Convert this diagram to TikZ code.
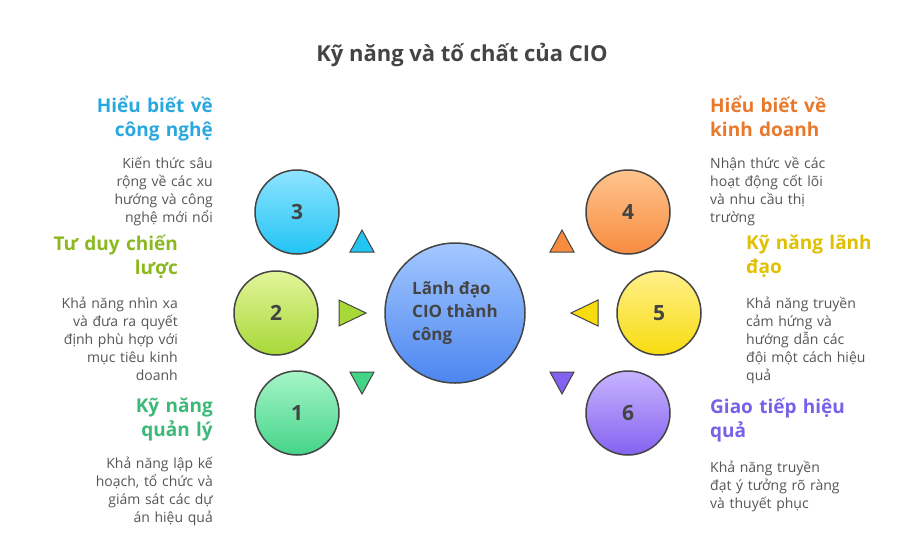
\documentclass[tikz,border=0pt]{standalone}
\usepackage{fontspec}
\setmainfont{Open Sans}
\usepackage{xcolor}
\usetikzlibrary{positioning}
\definecolor{edge}{HTML}{444444}
\definecolor{cyanA}{HTML}{8EE4FF}\definecolor{cyanB}{HTML}{22C4F4}\definecolor{cyanT}{HTML}{29A8E0}
\definecolor{limeA}{HTML}{E2F59A}\definecolor{limeB}{HTML}{A8D838}\definecolor{limeT}{HTML}{8CB820}
\definecolor{grnA}{HTML}{A6F5C8}\definecolor{grnB}{HTML}{44D488}\definecolor{grnT}{HTML}{3CB878}
\definecolor{orA}{HTML}{FFC48E}\definecolor{orB}{HTML}{F78C40}\definecolor{orT}{HTML}{E8782A}
\definecolor{yelA}{HTML}{FFF08A}\definecolor{yelB}{HTML}{F8DC10}\definecolor{yelT}{HTML}{E0C000}
\definecolor{purA}{HTML}{C8B4FF}\definecolor{purB}{HTML}{8462F0}\definecolor{purT}{HTML}{7860E8}
\definecolor{bluA}{HTML}{A4C8FF}\definecolor{bluB}{HTML}{4C86F0}
\definecolor{body}{HTML}{555555}
\tikzset{ball/.style={circle,draw=edge,line width=1.5pt,minimum size=84pt,font=\bfseries\fontsize{21}{21}\selectfont,text=edge}}
\tikzset{heading/.style={font=\bfseries\fontsize{19}{24}\selectfont,text width=170pt,inner sep=0pt}}
\tikzset{note/.style={font=\fontsize{14}{18}\selectfont,text=body,text width=170pt,inner sep=0pt}}
\tikzset{tri/.style={draw=edge,line width=1pt}}
\begin{document}
\begin{tikzpicture}[x=1pt,y=-1pt]
\useasboundingbox (0,0) rectangle (924,547);
\node[font=\bfseries\fontsize{22}{26}\selectfont,text=edge] (title) at (462,55) {Kỹ năng và tố chất của CIO};
% center
\node[ball,minimum size=140pt,top color=bluA,bottom color=bluB,align=left,font=\bfseries\fontsize{17}{23}\selectfont] (main) at (455,313) {Lãnh đạo\\CIO thành\\công};
% circles
\node[ball,top color=cyanA,bottom color=cyanB] (c3) at (297,212) {3};
\node[ball,top color=limeA,bottom color=limeB] (c2) at (276,313) {2};
\node[ball,top color=grnA,bottom color=grnB] (c1) at (297,413) {1};
\node[ball,top color=orA,bottom color=orB] (c4) at (628,212) {4};
\node[ball,top color=yelA,bottom color=yelB] (c5) at (659,313) {5};
\node[ball,top color=purA,bottom color=purB] (c6) at (628,413) {6};
% pointers
\fill[tri,fill=cyanB] (350,252) -- (374,252) -- (362,230) -- cycle;
\fill[tri,fill=limeB] (339,300) -- (339,326) -- (366,313) -- cycle;
\fill[tri,fill=grnB] (350,372) -- (374,372) -- (362,394) -- cycle;
\fill[tri,fill=orB] (550,252) -- (574,252) -- (562,230) -- cycle;
\fill[tri,fill=yelB] (598,300) -- (598,326) -- (571,313) -- cycle;
\fill[tri,fill=purB] (550,372) -- (574,372) -- (562,394) -- cycle;
% left texts
\node[heading,text=cyanT,align=right,anchor=north east] (h3) at (213,96) {Hiểu biết về\\công nghệ};
\node[note,align=right,anchor=north east] (n3) at (213,157) {Kiến thức sâu\\rộng về các xu\\hướng và công\\nghệ mới nổi};
\node[heading,text=limeT,align=right,anchor=north east] (h2) at (178,235) {Tư duy chiến\\lược};
\node[note,align=right,anchor=north east] (n2) at (178,297) {Khả năng nhìn xa\\và đưa ra quyết\\định phù hợp với\\mục tiêu kinh\\doanh};
\node[heading,text=grnT,align=right,anchor=north east] (h1) at (213,398) {Kỹ năng\\quản lý};
\node[note,align=right,anchor=north east] (n1) at (213,457) {Khả năng lập kế\\hoạch, tổ chức và\\giám sát các dự\\án hiệu quả};
% right texts
\node[heading,text=orT,align=left,anchor=north west] (h4) at (710,96) {Hiểu biết về\\kinh doanh};
\node[note,align=left,anchor=north west] (n4) at (710,157) {Nhận thức về các\\hoạt động cốt lõi\\và nhu cầu thị\\trường};
\node[heading,text=yelT,align=left,anchor=north west] (h5) at (746,235) {Kỹ năng lãnh\\đạo};
\node[note,align=left,anchor=north west] (n5) at (746,297) {Khả năng truyền\\cảm hứng và\\hướng dẫn các\\đội một cách hiệu\\quả};
\node[heading,text=purT,align=left,anchor=north west] (h6) at (710,398) {Giao tiếp hiệu\\quả};
\node[note,align=left,anchor=north west] (n6) at (710,461) {Khả năng truyền\\đạt ý tưởng rõ ràng\\và thuyết phục};
\end{tikzpicture}
\end{document}
